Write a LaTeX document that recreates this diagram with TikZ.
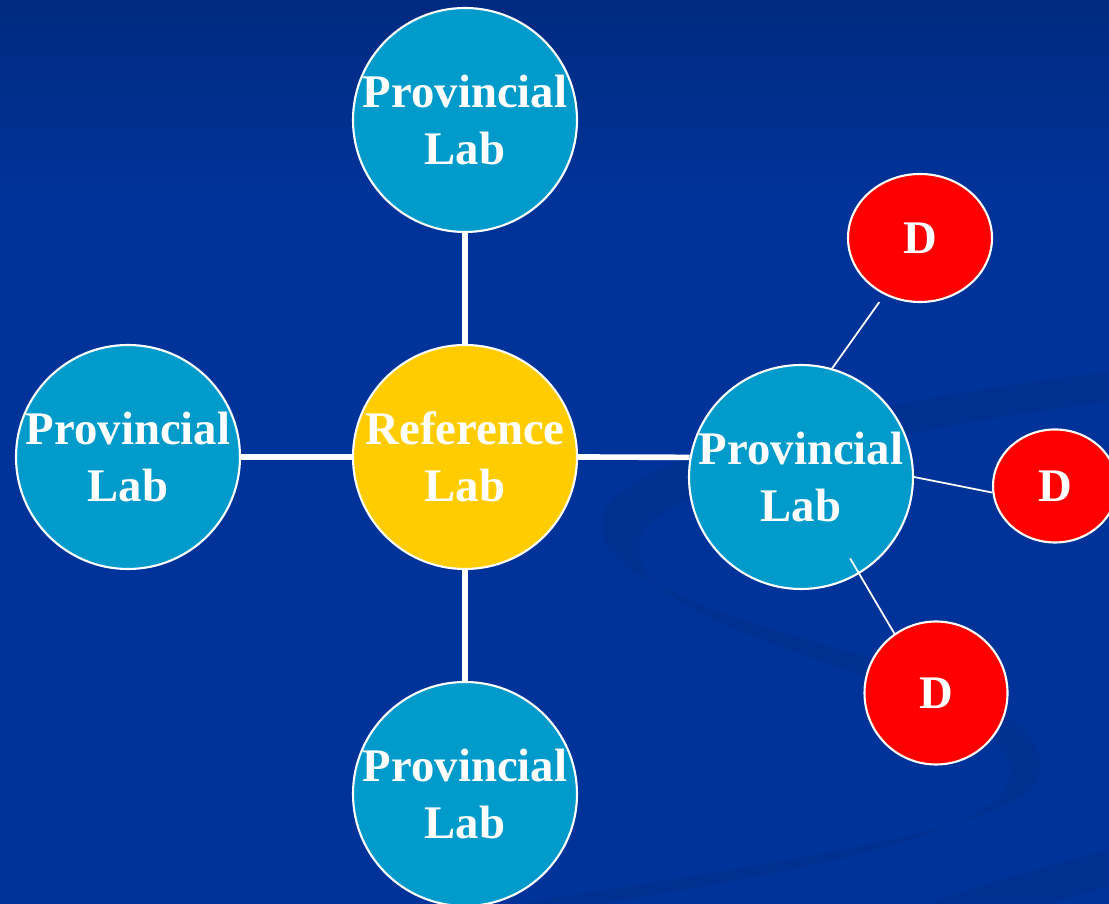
\documentclass[tikz,border=0pt]{standalone}
\usepackage{fontspec}
\setmainfont{Liberation Serif}
\usetikzlibrary{shapes.geometric}

\definecolor{slideblue}{HTML}{003399}
\definecolor{slidetop}{HTML}{002A80}
\definecolor{swoosh}{HTML}{003090}
\definecolor{provblue}{HTML}{009BCB}
\definecolor{refyellow}{HTML}{FFCC00}
\definecolor{dred}{HTML}{FF0000}

\begin{document}
\begin{tikzpicture}[node distance=3.37cm,
  lab node/.style={circle,draw=white,line width=0.6pt,minimum size=2.24cm,inner sep=0pt,
    text=white,align=center,font=\bfseries\fontsize{13.3}{16.2}\selectfont},
  d node/.style={ellipse,draw=white,line width=0.6pt,fill=dred,inner sep=0pt,
    text=white,font=\bfseries\fontsize{13.3}{16.2}\selectfont},
  link/.style={draw=white,line width=1.6pt},
  thin link/.style={draw=white,line width=0.5pt}]
  \clip (0,0) rectangle (11.09,9.04);

  % slide background with its swooshes
  \fill[slideblue] (0,0) rectangle (11.09,9.04);
  \shade[top color=slidetop,bottom color=slideblue] (0,7.04) rectangle (11.09,9.04);
  \begin{scope}[x=0.01cm,y=-0.01cm,yshift=9.04cm]
    \fill[swoosh] (1109,372) .. controls (880,400) and (640,450) .. (605,510)
      .. controls (580,570) and (700,610) .. (860,655)
      .. controls (1000,695) and (1060,740) .. (1035,785)
      .. controls (1000,830) and (800,860) .. (520,904)
      -- (600,904) .. controls (820,870) and (1000,830) .. (1010,780)
      .. controls (1020,740) and (960,715) .. (860,675)
      .. controls (700,620) and (630,590) .. (640,540)
      .. controls (650,490) and (880,430) .. (1109,402) -- cycle;
    \fill[swoosh] (930,904) .. controls (1000,880) .. (1109,850) -- (1109,887)
      .. controls (1080,895) .. (1050,904) -- cycle;
  \end{scope}

  % labs
  \node[lab node,fill=refyellow] (1) at (4.65,4.47) {Reference\\Lab};
  \node[lab node,fill=provblue] (2) [above of=1] {Provincial\\Lab};
  \node[lab node,fill=provblue] (3) [left of=1] {Provincial\\Lab};
  \node[lab node,fill=provblue] (4) [below of=1] {Provincial\\Lab};
  \node[lab node,fill=provblue] (5) at (8.01,4.27) {Provincial\\Lab};

  \node[d node,minimum width=1.44cm,minimum height=1.28cm] (d1) at (9.20,6.66) {D};
  \node[d node,minimum width=1.24cm,minimum height=1.13cm] (d2) at (10.55,4.18) {D};
  \node[d node,minimum width=1.43cm,minimum height=1.43cm] (d3) at (9.36,2.11) {D};

  \path (2) edge[link] (1)
        (3) edge[link] (1)
        (1) edge[link] (4);
  \draw[link] (1.east) -- (5.170);

  \draw[thin link,shorten >=0.09cm] (5.74) -- (d1.238);
  \draw[thin link] (5.east) -- (d2.186);
  \draw[thin link,shorten >=-0.18cm] (d3.125) -- (5.-59);
\end{tikzpicture}
\end{document}
